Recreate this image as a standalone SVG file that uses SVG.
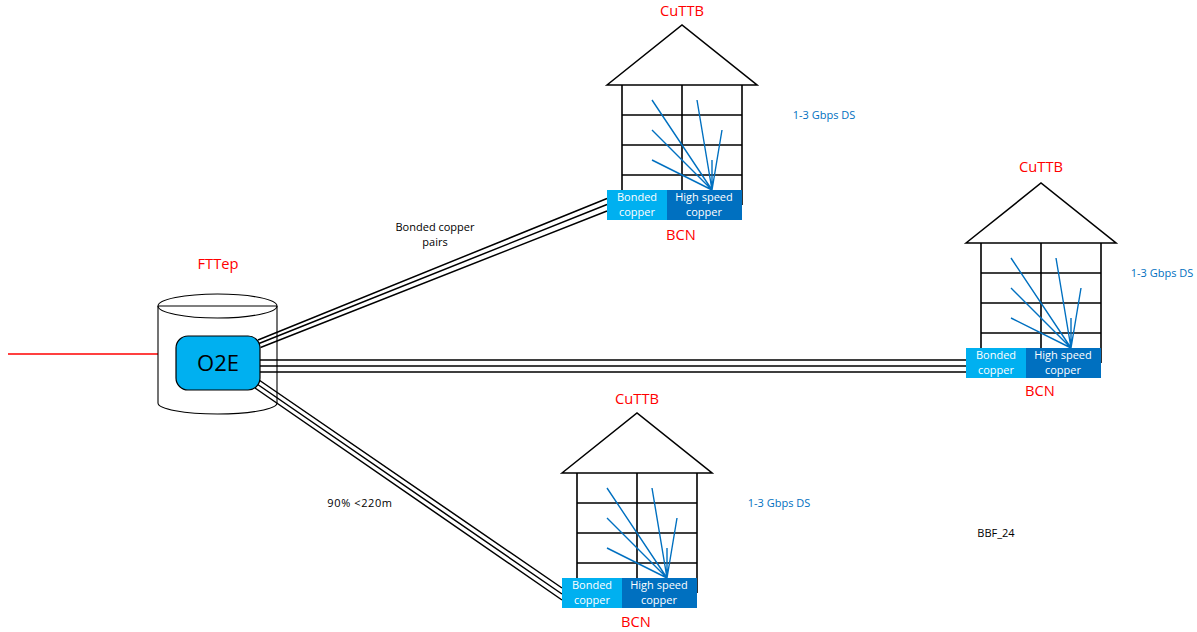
<svg xmlns="http://www.w3.org/2000/svg" width="1197" height="632" viewBox="0 0 1197 632">
<style>
text{font-family:"Open Sans","Noto Sans","Liberation Sans",sans-serif;text-anchor:middle}
.red{fill:#ff0000;font-size:14.7px}
.blk{fill:#000;font-size:11px}
.ds{fill:#0070c0;font-size:11px}
.wht{fill:#fff;font-size:11px}
.line{stroke:#000;stroke-width:1.6;fill:none}
.thin{stroke:#000;stroke-width:1.1;fill:none}
.cable{stroke:#000;stroke-width:1.5;fill:none}
.sig{stroke:#0070c0;stroke-width:1.4;fill:none}
</style>
<defs>
<g id="house">
<path class="line" d="M607 85L682 25L757 85Z"/>
<path class="line" d="M622 85V205M682 85V190M742 85V205M622 115H742M622 145H742M622 175H742"/>
<path class="sig" d="M652 100L712 190M652 130L712 190M652 160L712 190M697 100L712 190M722 130L712 190M712 160V190"/>
<rect x="607" y="190" width="60" height="30" fill="#00b0f0"/>
<rect x="667" y="190" width="75" height="30" fill="#0070c0"/>
</g>
</defs>
<g id="connectors">
<path class="cable" d="M258 340L607 198.500M259 343.500L607 204.500M260.500 347.500L607 211"/>
<path class="cable" d="M260 360H966M260 366H966M260 372H966"/>
<path class="cable" d="M259 380L562 588M257 384L562 594M255 388L562 600"/>
<path stroke="#ff0000" stroke-width="1.4" fill="none" d="M8 354H158"/>
</g>
<g id="fttep">
<path class="thin" d="M158 306V403A59.500 11 0 0 0 277 403V306"/>
<ellipse class="thin" cx="217.500" cy="306" rx="59.500" ry="12"/>
<path class="thin" d="M158 306H277"/>
<rect x="176" y="336" width="84" height="54" rx="12" fill="#00b0f0" stroke="#000" stroke-width="1.2"/>
<text x="218" y="371" fill="#000" font-size="22">O2E</text>
<text class="red" x="218" y="269">FTTep</text>
</g>
<g id="house-top">
<use href="#house"/>
<text class="red" x="682" y="16">CuTTB</text>
<text class="wht" x="637" y="201">Bonded</text>
<text class="wht" x="637" y="216">copper</text>
<text class="wht" x="704" y="201">High speed</text>
<text class="wht" x="704" y="216">copper</text>
<text class="red" x="681" y="240">BCN</text>
<text class="ds" x="824" y="119">1-3 Gbps DS</text>
</g>
<g id="house-right">
<use href="#house" x="359" y="158"/>
<text class="red" x="1041" y="172">CuTTB</text>
<text class="wht" x="996" y="359">Bonded</text>
<text class="wht" x="996" y="374">copper</text>
<text class="wht" x="1063" y="359">High speed</text>
<text class="wht" x="1063" y="374">copper</text>
<text class="red" x="1040" y="396">BCN</text>
<text class="ds" x="1162" y="277">1-3 Gbps DS</text>
</g>
<g id="house-bottom">
<use href="#house" x="-45" y="388"/>
<text class="red" x="637" y="404">CuTTB</text>
<text class="wht" x="592" y="589">Bonded</text>
<text class="wht" x="592" y="604">copper</text>
<text class="wht" x="659" y="589">High speed</text>
<text class="wht" x="659" y="604">copper</text>
<text class="red" x="636" y="627">BCN</text>
<text class="ds" x="779" y="507">1-3 Gbps DS</text>
</g>
<g id="labels">
<text class="blk" x="435" y="231">Bonded copper</text>
<text class="blk" x="435" y="246">pairs</text>
<text class="blk" x="360" y="507" letter-spacing="0.6">90% &lt;220m</text>
<text class="blk" x="996" y="537">BBF_24</text>
</g>
</svg>
